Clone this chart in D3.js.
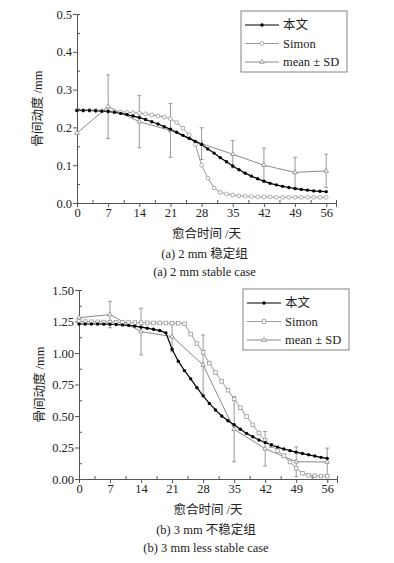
<!DOCTYPE html>
<html>
<head>
<meta charset="utf-8">
<script src="https://cdn.jsdelivr.net/npm/d3@7"></script>
<style>
  body { margin: 0; background: #fff; }
  svg text { fill: #222; }
</style>
</head>
<body>
<svg id="chart" width="394" height="563"></svg>
<script>
// --- data ---
const days = [0, 1.4, 2.8, 4.2, 5.6, 7, 8.4, 9.8, 11.2, 12.6, 14, 15.4, 16.8, 18.2, 19.6, 21,
    22.4, 23.8, 25.2, 26.6, 28, 29.4, 30.8, 32.2, 33.6, 35, 36.4, 37.8, 39.2, 40.6, 42,
    43.4, 44.8, 46.2, 47.6, 49, 50.4, 51.8, 53.2, 54.6, 56];
const meanDays = [0, 7, 14, 21, 28, 35, 42, 49, 56];
const xTicks = [0, 7, 14, 21, 28, 35, 42, 49, 56];

const topModel = [0.245, 0.245, 0.245, 0.244, 0.243, 0.242, 0.240, 0.237, 0.234, 0.230, 0.226,
    0.221, 0.215, 0.209, 0.202, 0.195, 0.187, 0.179, 0.171, 0.163, 0.155, 0.143, 0.132, 0.120,
    0.109, 0.098, 0.088, 0.079, 0.071, 0.064, 0.058, 0.052, 0.048, 0.044, 0.041, 0.038, 0.036,
    0.034, 0.032, 0.031, 0.030];
const topSimon = [0.245, 0.245, 0.245, 0.245, 0.244, 0.243, 0.242, 0.241, 0.240, 0.239, 0.238,
    0.236, 0.233, 0.230, 0.227, 0.223, 0.213, 0.198, 0.180, 0.155, 0.100, 0.066, 0.040, 0.028,
    0.024, 0.021, 0.019, 0.018, 0.017, 0.016, 0.016, 0.016, 0.015, 0.015, 0.015, 0.015, 0.015,
    0.015, 0.015, 0.015, 0.015];
const topMean = [0.185, 0.255, 0.215, 0.192, 0.157, 0.129, 0.100, 0.081, 0.085];
const topSD = [0, 0.084, 0.069, 0.071, 0.042, 0.036, 0.045, 0.040, 0.044];

const bottomModel = [1.230, 1.230, 1.230, 1.230, 1.229, 1.228, 1.226, 1.223, 1.219, 1.213, 1.205,
    1.197, 1.188, 1.178, 1.160, 1.030, 0.935, 0.860, 0.795, 0.725, 0.660, 0.600, 0.548, 0.500,
    0.462, 0.430, 0.395, 0.362, 0.335, 0.310, 0.290, 0.270, 0.253, 0.238, 0.225, 0.213, 0.202,
    0.192, 0.182, 0.172, 0.164];
const bottomSimon = [1.250, 1.249, 1.248, 1.247, 1.246, 1.245, 1.244, 1.243, 1.242, 1.241, 1.240,
    1.240, 1.239, 1.239, 1.238, 1.237, 1.236, 1.232, 1.150, 1.075, 1.005, 0.920, 0.845, 0.775,
    0.705, 0.635, 0.565, 0.495, 0.430, 0.365, 0.305, 0.265, 0.225, 0.185, 0.135, 0.085, 0.045,
    0.030, 0.026, 0.024, 0.023];
const bottomMean = [1.280, 1.305, 1.170, 1.130, 0.905, 0.395, 0.240, 0.137, 0.135];
const bottomSD = [0, 0.105, 0.185, 0.120, 0.238, 0.258, 0.137, 0.118, 0.110];

const legendLabels = ["本文", "Simon", "mean ± SD"];
const xTitle = "愈合时间 /天";
const yTitle = "骨间动度 /mm";

const FONT = "'Liberation Serif', 'Noto Sans CJK SC', serif";
const svg = d3.select("#chart");

function drawPanel(opt) {
    const g = svg.append("g");
    const x = d3.scaleLinear().domain([0, 58.2]).range([opt.left, opt.right]);
    const y = d3.scaleLinear().domain([0, opt.yMax]).range([opt.bottom, opt.top]);

    // axes: major ticks outward, minor ticks inward
    g.append("g").attr("transform", "translate(0," + opt.bottom + ")")
        .call(d3.axisBottom(x).tickValues(xTicks).tickSize(4).tickPadding(1).tickFormat(d3.format("d")));
    g.append("g").attr("transform", "translate(0," + opt.bottom + ")")
        .call(d3.axisBottom(x).tickValues(xTicks.slice(0, -1).map(d => d + 3.5)).tickSize(-3).tickFormat(""));
    g.append("g").attr("transform", "translate(" + opt.left + ",0)")
        .call(d3.axisLeft(y).tickValues(opt.yTicks).tickSize(4).tickPadding(1).tickFormat(d3.format(opt.yFormat)));
    g.append("g").attr("transform", "translate(" + opt.left + ",0)")
        .call(d3.axisLeft(y).tickValues(opt.yMinor).tickSize(-3).tickFormat(""));

    g.selectAll(".domain, .tick line").attr("stroke", "#555");
    g.selectAll(".tick text").attr("font-size", 12.5).style("font-family", FONT).attr("fill", "#222");

    // Simon curve
    const line = d3.line().x((d, i) => x(days[i])).y(d => y(d));
    g.append("path").datum(opt.simon).attr("d", line)
        .attr("fill", "none").attr("stroke", "#9a9a9a").attr("stroke-width", 1);

    // mean ± SD
    const meanLine = d3.line().x((d, i) => x(meanDays[i])).y(d => y(d));
    g.append("path").datum(opt.mean).attr("d", meanLine)
        .attr("fill", "none").attr("stroke", "#8a8a8a").attr("stroke-width", 1);
    const bars = g.selectAll(".ebar").data(opt.mean.map((m, i) => ({ d: meanDays[i], m: m, s: opt.sd[i] }))
        .filter(e => e.s > 0)).enter().append("g").attr("class", "ebar")
        .attr("stroke", "#999").attr("stroke-width", 1);
    bars.append("line").attr("x1", e => x(e.d)).attr("x2", e => x(e.d))
        .attr("y1", e => y(e.m - e.s)).attr("y2", e => y(e.m + e.s));
    bars.append("line").attr("x1", e => x(e.d) - 2).attr("x2", e => x(e.d) + 2)
        .attr("y1", e => y(e.m + e.s)).attr("y2", e => y(e.m + e.s));
    bars.append("line").attr("x1", e => x(e.d) - 2).attr("x2", e => x(e.d) + 2)
        .attr("y1", e => y(e.m - e.s)).attr("y2", e => y(e.m - e.s));

    // model curve (本文)
    g.append("path").datum(opt.model).attr("d", line)
        .attr("fill", "none").attr("stroke", "#000").attr("stroke-width", 1.2);

    // markers
    const tri = d3.symbol().type(d3.symbolTriangle).size(9);
    g.selectAll(".mpt").data(opt.mean).enter().append("path").attr("class", "mpt")
        .attr("d", tri).attr("transform", (d, i) => "translate(" + x(meanDays[i]) + "," + y(d) + ")")
        .attr("fill", "#fff").attr("stroke", "#888").attr("stroke-width", 0.8);

    if (opt.simonShape === "square") {
        g.selectAll(".spt").data(opt.simon).enter().append("rect").attr("class", "spt")
            .attr("x", (d, i) => x(days[i]) - 1.8).attr("y", d => y(d) - 1.8)
            .attr("width", 3.6).attr("height", 3.6)
            .attr("fill", "#fff").attr("stroke", "#999").attr("stroke-width", 0.8);
    } else {
        g.selectAll(".spt").data(opt.simon).enter().append("circle").attr("class", "spt")
            .attr("cx", (d, i) => x(days[i])).attr("cy", d => y(d)).attr("r", 1.9)
            .attr("fill", "#fff").attr("stroke", "#999").attr("stroke-width", 0.8);
    }

    g.selectAll(".bpt").data(opt.model).enter().append("circle").attr("class", "bpt")
        .attr("cx", (d, i) => x(days[i])).attr("cy", d => y(d)).attr("r", 1.7)
        .attr("fill", "#000");

    // titles
    const label = (sel) => sel.style("font-family", FONT).attr("font-size", 12.5).attr("fill", "#222");
    g.append("text").attr("x", (opt.left + opt.right) / 2).attr("y", opt.bottom + 35)
        .attr("text-anchor", "middle").call(label).text(xTitle);
    g.append("text").attr("transform", "translate(" + (opt.left - 35) + "," + ((opt.top + opt.bottom) / 2) + ") rotate(-90)")
        .attr("text-anchor", "middle").call(label).text(yTitle);
    g.append("text").attr("x", (opt.left + opt.right) / 2 - 2).attr("y", opt.bottom + 55)
        .attr("text-anchor", "middle").call(label).text(opt.caption1);
    g.append("text").attr("x", (opt.left + opt.right) / 2 - 2).attr("y", opt.bottom + 73)
        .attr("text-anchor", "middle").call(label).text(opt.caption2);

    // legend
    const lg = g.append("g").attr("transform", "translate(" + opt.legX + "," + opt.legY + ")");
    lg.append("rect").attr("width", 106).attr("height", 61)
        .attr("fill", "#fff").attr("stroke", "#666").attr("stroke-width", 0.8);
    const colors = ["#000", "#9a9a9a", "#8a8a8a"];
    legendLabels.forEach(function (lab, i) {
        const ly = 14 + i * 18.5;
        lg.append("line").attr("x1", 4).attr("x2", 38).attr("y1", ly).attr("y2", ly)
            .attr("stroke", colors[i]).attr("stroke-width", i === 0 ? 1.2 : 1);
        if (i === 0) {
            lg.append("circle").attr("cx", 21).attr("cy", ly).attr("r", 1.7).attr("fill", "#000");
        } else if (i === 1) {
            if (opt.simonShape === "square") {
                lg.append("rect").attr("x", 19.2).attr("y", ly - 1.8).attr("width", 3.6).attr("height", 3.6)
                    .attr("fill", "#fff").attr("stroke", "#999").attr("stroke-width", 0.8);
            } else {
                lg.append("circle").attr("cx", 21).attr("cy", ly).attr("r", 1.9)
                    .attr("fill", "#fff").attr("stroke", "#999").attr("stroke-width", 0.8);
            }
        } else {
            lg.append("path").attr("d", tri).attr("transform", "translate(21," + ly + ")")
                .attr("fill", "#fff").attr("stroke", "#888").attr("stroke-width", 0.8);
        }
        lg.append("text").attr("x", 42).attr("y", ly + 4).call(label).text(lab);
    });
}

drawPanel({
    left: 77, right: 336, top: 14, bottom: 203, yMax: 0.5,
    yTicks: [0, 0.1, 0.2, 0.3, 0.4, 0.5], yMinor: [0.05, 0.15, 0.25, 0.35, 0.45], yFormat: ".1f",
    model: topModel, simon: topSimon, mean: topMean, sd: topSD, simonShape: "circle",
    caption1: "(a) 2 mm 稳定组", caption2: "(a) 2 mm stable case",
    legX: 241, legY: 11
});

drawPanel({
    left: 79, right: 337, top: 290, bottom: 479, yMax: 1.5,
    yTicks: [0, 0.25, 0.5, 0.75, 1.0, 1.25, 1.5], yMinor: [0.125, 0.375, 0.625, 0.875, 1.125, 1.375], yFormat: ".2f",
    model: bottomModel, simon: bottomSimon, mean: bottomMean, sd: bottomSD, simonShape: "square",
    caption1: "(b) 3 mm 不稳定组", caption2: "(b) 3 mm less stable case",
    legX: 243, legY: 289
});
</script>
</body>
</html>
